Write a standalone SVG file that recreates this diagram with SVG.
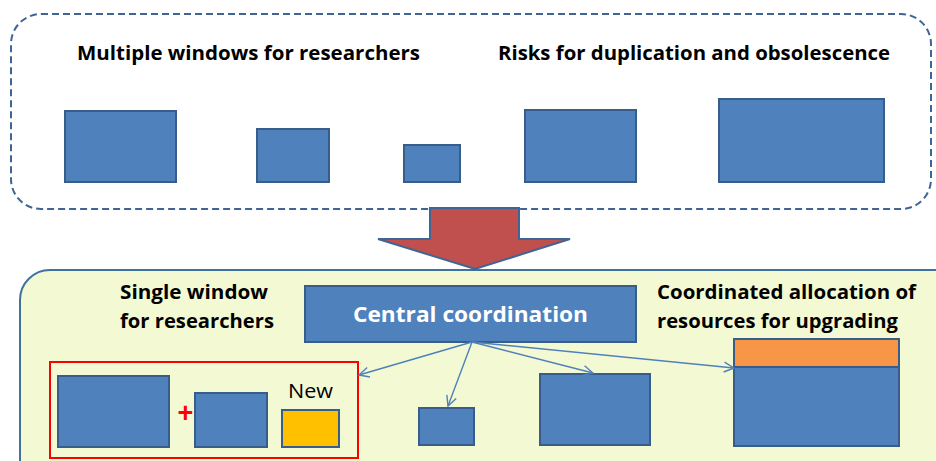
<svg xmlns="http://www.w3.org/2000/svg" width="936" height="461" viewBox="0 0 936 461">
<defs>
<style>
.blk{fill:#4f81bd;stroke:#385d8a;stroke-width:2}
.lbl{font-family:"Open Sans","Liberation Sans",sans-serif;font-weight:bold;font-size:20px;fill:#000}
.conn{stroke:#4f81bd;stroke-width:1.4;fill:none}
</style>
<marker id="ah" viewBox="0 0 12 12" refX="11" refY="6" markerWidth="12" markerHeight="12" markerUnits="userSpaceOnUse" orient="auto">
<path d="M1,1 L11,6 L1,11" fill="none" stroke="#4f81bd" stroke-width="1.4"/>
</marker>
</defs>
<rect width="936" height="461" fill="#fff"/>
<g id="top-panel">
<rect x="11" y="14" width="920" height="195" rx="30" fill="#fff" stroke="#3f6594" stroke-width="2" stroke-dasharray="7,4"/>
<text class="lbl" x="77" y="60" textLength="343" lengthAdjust="spacingAndGlyphs">Multiple windows for researchers</text>
<text class="lbl" x="498" y="60" textLength="392" lengthAdjust="spacingAndGlyphs">Risks for duplication and obsolescence</text>
</g>
<g id="top-box-1"><rect class="blk" x="65" y="111" width="111" height="71"/></g>
<g id="top-box-2"><rect class="blk" x="257" y="129" width="72" height="53"/></g>
<g id="top-box-3"><rect class="blk" x="404" y="145" width="56" height="37"/></g>
<g id="top-box-4"><rect class="blk" x="525" y="110" width="111" height="72"/></g>
<g id="top-box-5"><rect class="blk" x="719" y="99" width="165" height="83"/></g>
<g id="bottom-panel">
<rect x="20" y="270" width="960" height="240" rx="30" fill="#f3f9d2" stroke="#41719c" stroke-width="2"/>
<text class="lbl" x="120" y="299" textLength="148" lengthAdjust="spacingAndGlyphs">Single window</text>
<text class="lbl" x="120" y="328" textLength="154" lengthAdjust="spacingAndGlyphs">for researchers</text>
<text class="lbl" x="657" y="299" textLength="259" lengthAdjust="spacingAndGlyphs">Coordinated allocation of</text>
<text class="lbl" x="657" y="328" textLength="241" lengthAdjust="spacingAndGlyphs">resources for upgrading</text>
</g>
<g id="big-arrow">
<path d="M430,208 L519,208 L519,239 L570,239 L475,269 L378,239 L430,239 Z" fill="#c0504d" stroke="#3f6594" stroke-width="2" stroke-linejoin="miter"/>
</g>
<g id="central-coordination">
<rect class="blk" x="305" y="286" width="331" height="56"/>
<text x="470.5" y="322" text-anchor="middle" font-family="'Open Sans','Liberation Sans',sans-serif" font-weight="bold" font-size="21" fill="#fff" textLength="235" lengthAdjust="spacingAndGlyphs">Central coordination</text>
</g>
<g id="single-window-group">
<rect x="50" y="362" width="308" height="96" fill="none" stroke="#ff0000" stroke-width="2"/>
<rect class="blk" x="58" y="376" width="111" height="71"/>
<text x="185.5" y="422" text-anchor="middle" font-family="'Liberation Sans',sans-serif" font-weight="bold" font-size="27" fill="#ff0000">+</text>
<rect class="blk" x="195" y="393" width="72" height="54"/>
<text x="288" y="398" font-family="'Open Sans','Liberation Sans',sans-serif" font-size="20" fill="#000" textLength="45" lengthAdjust="spacingAndGlyphs">New</text>
<rect x="282" y="410" width="57" height="37" fill="#ffc000" stroke="#385d8a" stroke-width="2"/>
</g>
<g id="small-box"><rect class="blk" x="419" y="408" width="55" height="37"/></g>
<g id="mid-box"><rect class="blk" x="540" y="374" width="110" height="71"/></g>
<g id="upgraded-box">
<rect class="blk" x="734" y="339" width="165" height="107"/>
<rect x="734" y="339" width="165" height="28" fill="#f79646" stroke="#385d8a" stroke-width="2"/>
</g>
<g id="connectors">
<line class="conn" x1="472" y1="342" x2="359" y2="375" marker-end="url(#ah)"/>
<line class="conn" x1="472" y1="342" x2="448" y2="406" marker-end="url(#ah)"/>
<line class="conn" x1="472" y1="342" x2="593" y2="373" marker-end="url(#ah)"/>
<line class="conn" x1="472" y1="342" x2="734" y2="368" marker-end="url(#ah)"/>
</g>
</svg>
